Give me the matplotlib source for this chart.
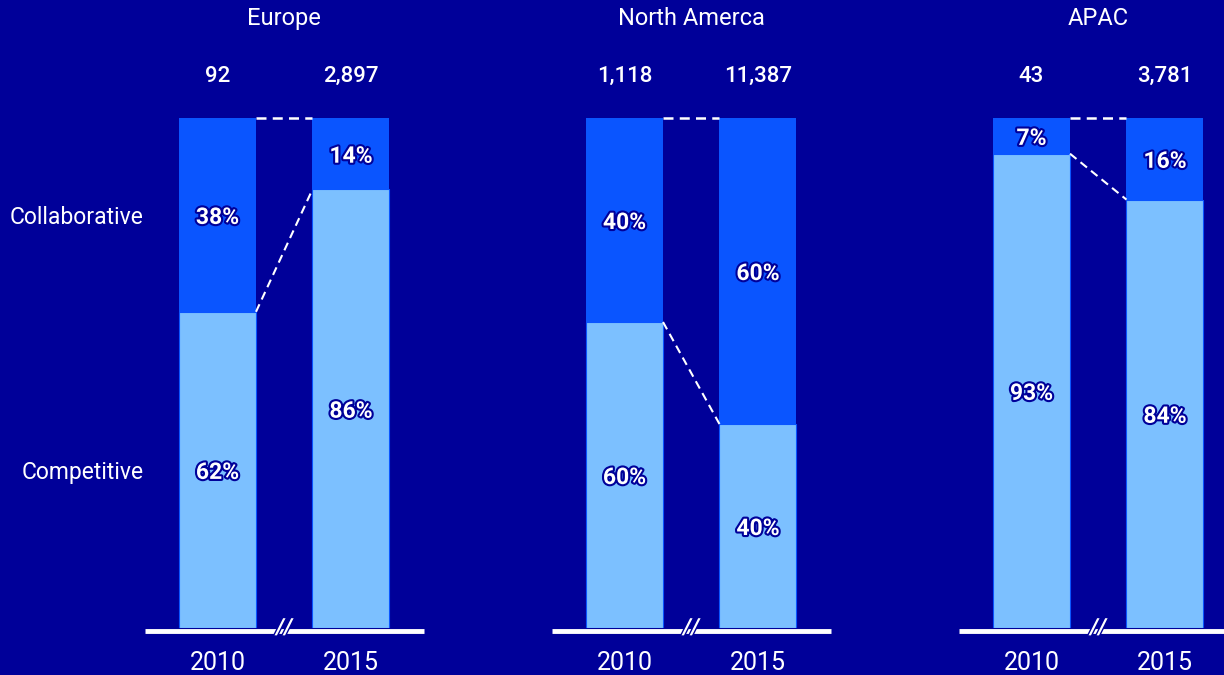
import matplotlib.pyplot as plt
import matplotlib.patheffects as pe

# Data
regions = ['Europe', 'North Amerca', 'APAC']
years = ['2010', '2015']
totals = [[92, 2897], [1118, 11387], [43, 3781]]
competitive = [[62, 86], [60, 40], [93, 84]]
collaborative = [[38, 14], [40, 60], [7, 16]]
row_labels = ['Collaborative', 'Competitive']

BG = '#000099'
COLLAB = '#0a55ff'
COMP = '#7cc0ff'
FONT = 'Roboto'

W, H = 1224, 675
fig = plt.figure(figsize=(W / 100, H / 100), dpi=100, facecolor=BG)

# panel layout in pixels: left edge of axis line, width, bar top / bottom
panel_left = [145, 552, 959]
panel_w = 279
top_px, bot_px = 118, 628
bar_w = 0.577
x_lo, x_hi = -0.543, 1.547

outline = [pe.withStroke(linewidth=3, foreground=BG)]

for i, region in enumerate(regions):
    ax = fig.add_axes([panel_left[i] / W, 1 - bot_px / H,
                       panel_w / W, (bot_px - top_px) / H])
    ax.set_facecolor('none')
    ax.set_xlim(x_lo, x_hi)
    ax.set_ylim(0, 100)
    ax.axis('off')

    xs = [0, 1]
    comp = competitive[i]
    coll = collaborative[i]
    ax.bar(xs, comp, width=bar_w, color=COMP, edgecolor=COLLAB,
           linewidth=0.8, zorder=2)
    ax.bar(xs, coll, bottom=comp, width=bar_w, color=COLLAB,
           linewidth=0, zorder=2)

    # axis line with break mark
    ax.plot([x_lo, x_hi], [-0.6, -0.6], color='white', lw=3.5,
            solid_capstyle='butt', clip_on=False, zorder=1)
    ax.text(0.5, 0.0, '//', color='white', fontsize=16, fontweight='bold',
            style='italic', ha='center', va='center', family=FONT,
            path_effects=[pe.withStroke(linewidth=2, foreground=BG)],
            zorder=3, clip_on=False)

    # dashed connectors
    ax.plot([bar_w / 2, 1 - bar_w / 2], [100, 100], color='white', lw=1.8,
            ls=(0, (4, 2.5)), zorder=3, clip_on=False)
    ax.plot([bar_w / 2, 1 - bar_w / 2], comp, color='white', lw=1.5,
            ls=(0, (4, 2.5)), zorder=3)

    # segment labels
    for x, c, k in zip(xs, comp, coll):
        ax.text(x, c / 2, f'{c}%', color='white', fontsize=16.5,
                fontweight='bold', ha='center', va='center_baseline',
                family=FONT, path_effects=outline, zorder=4)
        ax.text(x, c + k / 2, f'{k}%', color='white', fontsize=16.5,
                fontweight='bold', ha='center', va='center_baseline',
                family=FONT, path_effects=outline, zorder=4)

    # totals, years, title
    for x, t, yr in zip(xs, totals[i], years):
        ax.text(x, 108.2, f'{t:,}', color='white', fontsize=16,
                fontweight='medium', ha='center', va='center', family=FONT,
                clip_on=False)
        ax.text(x, -6.8, yr, color='white', fontsize=18,
                ha='center', va='center', family=FONT, clip_on=False)
    ax.text(0.5, 119.6, region, color='white', fontsize=17,
            ha='center', va='center', family=FONT, clip_on=False)

    if i == 0:
        tr = ax.get_yaxis_transform()
        ax.text(-0.005, coll[0] / 2 + comp[0], row_labels[0], transform=tr,
                color='white', fontsize=16.5, ha='right',
                va='center_baseline', family=FONT)
        ax.text(-0.005, comp[0] / 2, row_labels[1], transform=tr,
                color='white', fontsize=16.5, ha='right',
                va='center_baseline', family=FONT)

fig.savefig('out.png', dpi=100, facecolor=BG)
